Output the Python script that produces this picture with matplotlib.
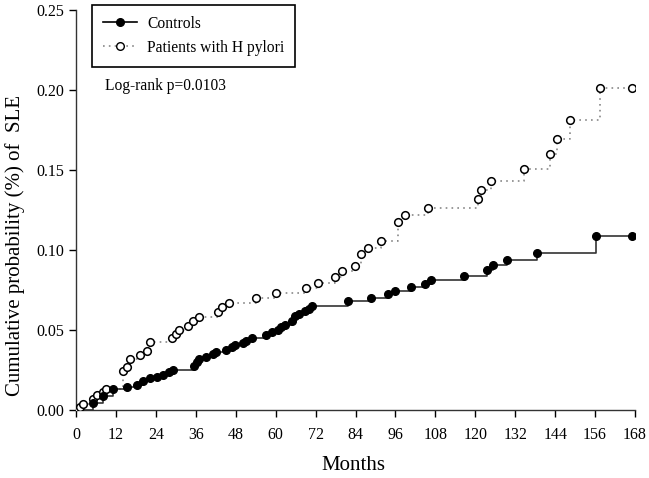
import matplotlib
matplotlib.use("Agg")
import matplotlib.pyplot as plt
from matplotlib.lines import Line2D

plt.rcParams['font.family'] = ['Liberation Serif', 'DejaVu Serif']

# Controls (months, cumulative probability)
ctrl_months = [0, 5.2, 8.2, 11.2, 15.2, 18.2, 20.1, 22.2, 24.2, 26.1, 28.1, 29.1,
               35.6, 36.3, 37.1, 39.1, 41.3, 42.1, 45.1, 46.9, 47.9, 50.1, 51.1,
               52.9, 57.0, 58.9, 60.6, 61.6, 62.9, 64.9, 65.9, 66.9, 68.9, 69.9,
               70.9, 81.8, 88.8, 93.8, 95.8, 100.8, 104.8, 106.8, 116.5, 123.4,
               125.4, 129.4, 138.4, 156.4, 167.0]
ctrl_prob = [0, 0.0045, 0.0090, 0.0132, 0.0142, 0.0157, 0.0182, 0.0197, 0.0207,
             0.0217, 0.0236, 0.0250, 0.0277, 0.0297, 0.0317, 0.0331, 0.0350,
             0.0360, 0.0377, 0.0392, 0.0404, 0.0419, 0.0433, 0.0450, 0.0466,
             0.0485, 0.0502, 0.0516, 0.0533, 0.0554, 0.0585, 0.0600, 0.0617,
             0.0631, 0.0647, 0.0683, 0.0703, 0.0724, 0.0745, 0.0768, 0.0789,
             0.0814, 0.0840, 0.0873, 0.0904, 0.0939, 0.0981, 0.1085, 0.1085]

# Patients with H pylori
hp_months = [0, 1.2, 2.2, 5.2, 6.2, 8.2, 9.0, 14.2, 15.2, 16.2, 19.2, 21.2, 22.2,
             29.0, 30.1, 31.1, 33.6, 35.1, 36.9, 42.8, 43.9, 45.9, 54.1, 60.0,
             69.0, 72.8, 77.8, 79.8, 83.8, 85.8, 87.8, 91.8, 96.8, 98.8, 105.8,
             120.7, 121.6, 124.6, 134.5, 142.5, 144.5, 148.5, 157.5, 167.0]
hp_prob = [0, 0.0018, 0.0038, 0.0066, 0.0091, 0.0114, 0.0134, 0.0241, 0.0266,
           0.0319, 0.0344, 0.0367, 0.0423, 0.0447, 0.0477, 0.0502, 0.0527,
           0.0554, 0.0583, 0.0610, 0.0641, 0.0669, 0.0700, 0.0731, 0.0762,
           0.0793, 0.0831, 0.0866, 0.0903, 0.0976, 0.1015, 0.1057, 0.1177,
           0.1219, 0.1265, 0.1320, 0.1376, 0.1434, 0.1508, 0.1598, 0.1696,
           0.1812, 0.2014, 0.2014]

x_ticks = list(range(0, 169, 12))
y_ticks = [0.00, 0.05, 0.10, 0.15, 0.20, 0.25]

fig = plt.figure(figsize=(6.49, 4.78), dpi=100)
ax = fig.add_axes([76/649, 1-410/478, (635-76)/649, 400/478])

ax.plot(hp_months, hp_prob, drawstyle='steps-post', color='#888888',
        linestyle=(0, (1, 2.5)), linewidth=1.2, zorder=2)
ax.plot(hp_months, hp_prob, linestyle='none', marker='o', markersize=5.5,
        markerfacecolor='white', markeredgecolor='black', markeredgewidth=1.1, zorder=3)

ax.plot(ctrl_months, ctrl_prob, drawstyle='steps-post', color='#333333',
        linestyle='-', linewidth=1.2, zorder=2)
ax.plot(ctrl_months[1:], ctrl_prob[1:], linestyle='none', marker='o', markersize=5.5,
        markerfacecolor='black', markeredgecolor='black', zorder=4)

ax.set_xlim(0, 168)
ax.set_ylim(0, 0.25)
ax.set_xticks(x_ticks)
ax.set_yticks(y_ticks)
ax.set_xticklabels([str(t) for t in x_ticks])
ax.set_yticklabels([f"{t:.2f}" for t in y_ticks])
ax.tick_params(direction='out', length=5, width=1, labelsize=11.5, colors='black')
ax.tick_params(axis='x', pad=7)
for s in ['top', 'right']:
    ax.spines[s].set_visible(False)
for s in ['left', 'bottom']:
    ax.spines[s].set_linewidth(1)
    ax.spines[s].set_color('#333333')

ax.set_xlabel('Months', fontsize=15)
ax.set_ylabel('Cumulative probability (%) of  SLE', fontsize=15)
ax.xaxis.set_label_coords(0.497, -0.14)
ax.yaxis.set_label_coords(-0.109, 0.4125)
ax.xaxis.label.set_va('center')
ax.yaxis.label.set_va('center')

ax.text(8.7, 0.2022, 'Log-rank p=0.0103', fontsize=11.2,
        va='center', ha='left', color='black')

h1 = Line2D([], [], color='black', linestyle='-', linewidth=1.2, marker='o',
            markersize=5.5, markerfacecolor='black')
h2 = Line2D([], [], color='#888888', linestyle=(0, (1, 2.5)), linewidth=1.2, marker='o',
            markersize=5.5, markerfacecolor='white', markeredgecolor='black')
leg = ax.legend([h1, h2], ['Controls', 'Patients with H pylori'],
                loc='upper left', bbox_to_anchor=(0.0286, 1.0125), fontsize=11.2,
                frameon=True, fancybox=False, edgecolor='black', framealpha=1,
                handlelength=2.2, handletextpad=0.65, borderpad=0.7,
                labelspacing=0.5, borderaxespad=0)
leg.get_frame().set_linewidth(1.2)

fig.savefig('out.png', dpi=100)
